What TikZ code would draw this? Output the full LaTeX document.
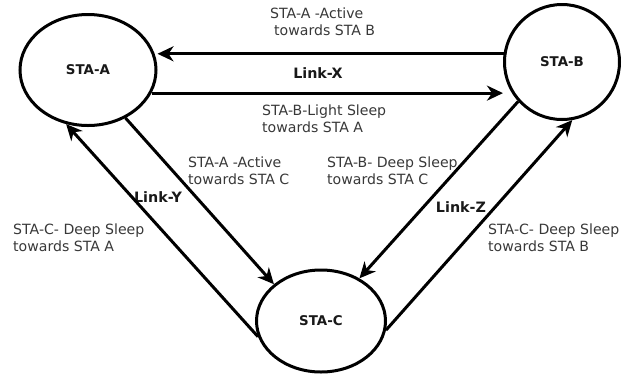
\documentclass[tikz,border=0pt]{standalone}
\usepackage{fontspec}
\setmainfont{DejaVu Sans}
\usetikzlibrary{arrows.meta,shapes.geometric}

\begin{document}
\begin{tikzpicture}[x=1pt,y=-1pt,
        sta/.style={draw, ellipse, line width=3pt, inner sep=0pt, text=black!90,
            font=\fontsize{13.4}{16}\selectfont\bfseries},
        link/.style={line width=3pt, -{Stealth[length=16pt,width=15pt,inset=5pt]}},
        linkname/.style={inner sep=0pt, text=black!90, font=\fontsize{14.3}{17}\selectfont\bfseries},
        note/.style={anchor=north west, inner sep=0pt, align=left, text=black!78,
            font=\fontsize{14.1}{17}\selectfont}]
        \useasboundingbox (0,0) rectangle (630,376);

        \node[sta, minimum width=136pt, minimum height=111pt] (staA) at (88,70) {STA-A};
        \node[sta, minimum width=115pt, minimum height=115pt] (staB) at (562,62) {STA-B};
        \node[sta, minimum width=129pt, minimum height=102pt] (staC) at (321,321) {STA-C};

        \node[note] (noteAB) at (270,8) {STA-A -Active\\\hspace*{4pt}towards STA B};
        \node[note] (noteBA) at (262,105) {STA-B-Light Sleep\\towards STA A};
        \node[note] (noteAC) at (188,157) {STA-A -Active\\towards STA C};
        \node[note] (noteCA) at (13,224) {STA-C- Deep Sleep\\towards STA A};
        \node[note] (noteBC) at (327,157) {STA-B- Deep Sleep\\towards STA C};
        \node[note] (noteCB) at (488,224) {STA-C- Deep Sleep\\towards STA B};

        \node[linkname] (linkX) at (318,73) {Link-X};
        \node[linkname] (linkY) at (158,197) {Link-Y};
        \node[linkname] (linkZ) at (461,207) {Link-Z};

        \draw[link] (staB.172) -- (staB.172 -| staA.east);
        \draw[link] (staA.-20) -- (staA.-20 -| staB.west);
        \draw[link] (staA.-52) -- (staC.142);
        \draw[link] (staC.-166) -- (staA.-112);
        \draw[link] (staB.222) -- (staC.48);
        \draw[link] (staC.-8) -- (staB.-80);
    \end{tikzpicture}
\end{document}
